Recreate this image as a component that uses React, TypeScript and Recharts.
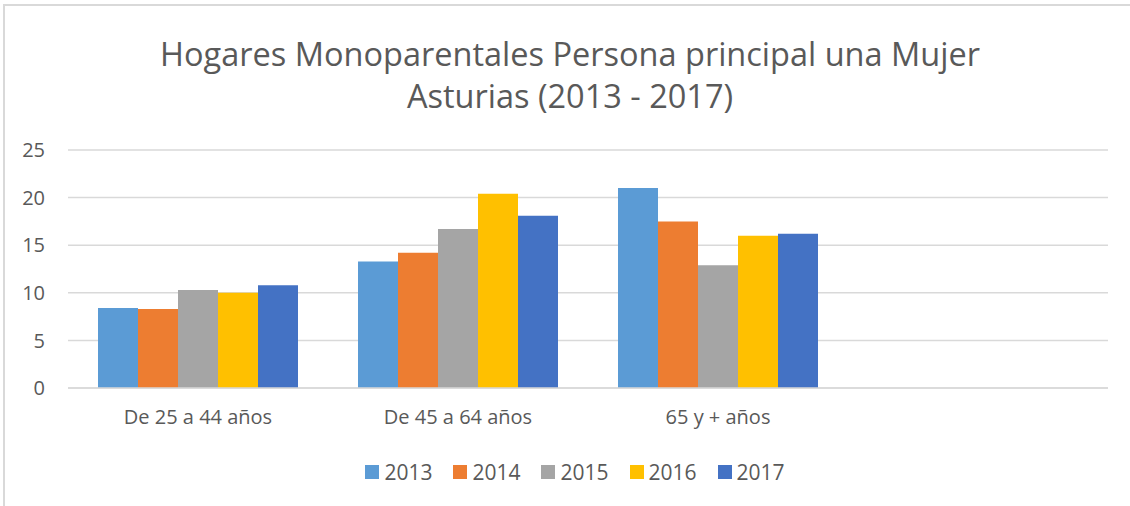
import React from "react";
import { BarChart, Bar, XAxis, YAxis, CartesianGrid, Legend } from "recharts";

const categories = ["De 25 a 44 años", "De 45 a 64 años", "65 y + años", ""];
const years = ["2013", "2014", "2015", "2016", "2017"];
const colors = ["#5B9BD5", "#ED7D31", "#A5A5A5", "#FFC000", "#4472C4"];
const v2013 = [8.4, 13.3, 21.0, null];
const v2014 = [8.3, 14.2, 17.5, null];
const v2015 = [10.3, 16.7, 12.9, null];
const v2016 = [10.0, 20.4, 16.0, null];
const v2017 = [10.8, 18.1, 16.2, null];
const yTicks = [0, 5, 10, 15, 20, 25];

const seriesValues = [v2013, v2014, v2015, v2016, v2017];
const data = categories.map((c, i) => {
  const row: Record<string, any> = { name: c };
  years.forEach((y, j) => {
    row[y] = seriesValues[j][i];
  });
  return row;
});

const FONT = "'Open Sans', 'Noto Sans', sans-serif";
const TEXT = "#595959";

const LegendContent = (props: any) => {
  const payload = props.payload || [];
  return (
    <div
      style={{
        display: "flex",
        justifyContent: "center",
        paddingLeft: 41,
        fontFamily: FONT,
        fontSize: 21,
        color: TEXT,
      }}
    >
      {payload.map((p: any) => (
        <div key={p.value} style={{ display: "flex", alignItems: "center", marginRight: 21 }}>
          <span style={{ width: 14, height: 14, background: p.color, display: "inline-block", marginRight: 5 }} />
          <span>{p.value}</span>
        </div>
      ))}
    </div>
  );
};

export default function App() {
  return (
    <div style={{ position: "absolute", left: 0, top: 0, width: 1130, height: 506, background: "#fff", overflow: "hidden" }}>
      <div
        style={{
          position: "absolute",
          left: 3,
          top: 4,
          width: 1140,
          height: 510,
          borderTop: "2px solid #d9d9d9",
          borderLeft: "2px solid #d9d9d9",
          boxSizing: "border-box",
        }}
      />
      <div
        style={{
          position: "absolute",
          left: 10,
          top: 33,
          width: 1120,
          textAlign: "center",
          fontFamily: FONT,
          fontSize: 32.5,
          lineHeight: "42px",
          color: TEXT,
        }}
      >
        Hogares Monoparentales Persona principal una Mujer
        <br />
        Asturias (2013 - 2017)
      </div>
      <div style={{ position: "absolute", left: 0, top: 0 }}>
        <BarChart
          width={1130}
          height={506}
          data={data}
          margin={{ top: 150, right: 22, bottom: 88, left: 0 }}
          barCategoryGap={30}
          barGap={0}
        >
          <CartesianGrid vertical={false} stroke="#d9d9d9" strokeWidth={1.5} />
          <XAxis
            dataKey="name"
            axisLine={{ stroke: "#d9d9d9", strokeWidth: 1.5 }}
            tickLine={false}
            tickSize={0}
            tickMargin={22}
            tick={{ fill: TEXT, fontSize: 20, fontFamily: FONT }}
            interval={0}
            height={30}
          />
          <YAxis
            domain={[0, 25]}
            ticks={yTicks}
            axisLine={false}
            tickLine={false}
            tickSize={0}
            tickMargin={23}
            width={68}
            tick={{ fill: TEXT, fontSize: 20, fontFamily: FONT }}
          />
          <Legend
            layout="horizontal"
            verticalAlign="middle"
            align="center"
            wrapperStyle={{ top: 458, left: 0, width: 1130 }}
            content={<LegendContent />}
          />
          {years.map((y, j) => (
            <Bar key={y} dataKey={y} fill={colors[j]} isAnimationActive={false} />
          ))}
        </BarChart>
      </div>
    </div>
  );
}
